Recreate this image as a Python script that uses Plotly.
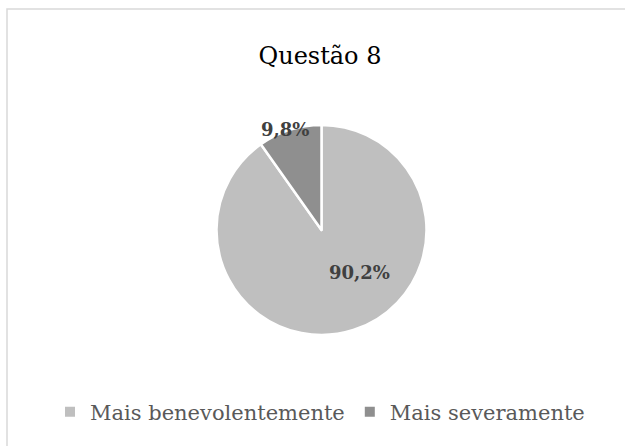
import plotly.graph_objects as go

categories = ["Mais benevolentemente", "Mais severamente"]
values = [90.2, 9.8]
colors = ["#bfbfbf", "#8f8f8f"]
title_text = "Questão 8"

W, H = 625, 446

def px(x):
    return x / W

def py(y):
    return 1 - y / H

fig = go.Figure()
fig.add_trace(go.Pie(
    labels=categories,
    values=values,
    sort=False,
    direction="clockwise",
    rotation=0,
    marker=dict(colors=colors, line=dict(color="white", width=2.5)),
    textinfo="none",
    hoverinfo="label+percent",
    domain=dict(x=[px(216), px(427)], y=[py(335), py(125)]),
))

label_pos = [(359, 272), (285, 130)]
for v, (lx, ly) in zip(values, label_pos):
    fig.add_annotation(
        x=px(lx), y=py(ly), xref="paper", yref="paper",
        text="<b>" + f"{v:.1f}".replace(".", ",") + "%</b>",
        showarrow=False, xanchor="center", yanchor="middle",
        font=dict(family="DejaVu Serif", size=18, color="#404040"),
    )

fig.add_shape(type="rect", xref="paper", yref="paper",
              x0=px(7), x1=px(640), y0=py(9), y1=py(460),
              line=dict(color="#d9d9d9", width=1.5), fillcolor="rgba(0,0,0,0)", layer="below")

fig.update_layout(
    width=W, height=H,
    margin=dict(l=0, r=0, t=0, b=0),
    paper_bgcolor="white",
    plot_bgcolor="white",
    title=dict(text=title_text, x=px(320), y=py(56), xanchor="center", yanchor="middle",
               font=dict(family="DejaVu Serif", size=24, color="#000000")),
    showlegend=True,
    legend=dict(orientation="h", x=px(50), xanchor="left", y=py(412), yanchor="middle",
                font=dict(family="DejaVu Serif", size=21, color="#595959"),
                itemsizing="constant", traceorder="normal"),
)

fig.write_html("out.html", config={"displayModeBar": False},
               post_script="document.body.style.margin='0';document.body.style.overflow='hidden';")
